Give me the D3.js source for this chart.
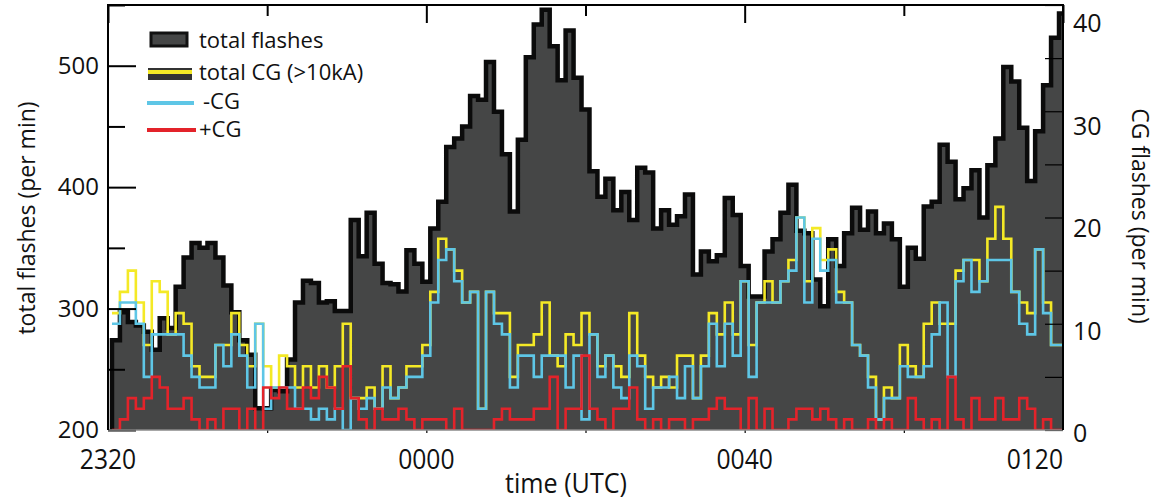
<!DOCTYPE html>
<html>
<head>
<meta charset="utf-8">
<script src="https://cdn.jsdelivr.net/npm/d3@7"></script>
<style>
  body { margin: 0; background: #fff; }
  text { font-family: "Open Sans", "Noto Sans", sans-serif; fill: #111; }
</style>
</head>
<body>
<div id="chart"></div>
<script>
// one bin per minute, bins centred on minutes after 2320 UTC
const minutes = d3.range(1, 121);

const totalFlashes = [
  274, 297, 289, 286, 281, 266, 292, 284, 318, 342,
  354, 350, 354, 342, 319, 297, 274, 262, 218, 218,
  233, 232, 258, 305, 323, 321, 305, 306, 298, 298,
  373, 343, 379, 337, 321, 320, 314, 348, 337, 322,
  366, 388, 433, 440, 450, 475, 472, 503, 462, 427,
  380, 439, 507, 534, 546, 516, 488, 529, 490, 464,
  413, 392, 407, 381, 396, 373, 416, 412, 366, 381,
  369, 376, 394, 328, 347, 339, 344, 391, 377, 335,
  310, 310, 347, 357, 379, 402, 364, 362, 324, 302,
  357, 335, 362, 383, 365, 380, 362, 370, 357, 318,
  350, 341, 384, 388, 435, 421, 390, 399, 414, 375,
  418, 440, 499, 487, 449, 405, 446, 484, 523, 543
];

const totalCG = [
  11, 13, 15, 12, 8, 14, 13, 9, 11, 10,
  6, 5, 5, 8, 8, 11, 8, 6, 10, 6,
  4, 7, 6, 4, 6, 4, 6, 4, 6, 10,
  3, 3, 4, 2, 6, 3, 4, 6, 6, 8,
  13, 18, 17, 15, 12, 13, 2, 13, 11, 11,
  5, 8, 8, 9, 12, 7, 6, 9, 8, 11,
  9, 6, 7, 6, 5, 11, 7, 5, 4, 5,
  4, 7, 7, 3, 7, 11, 9, 12, 9, 14,
  8, 12, 14, 12, 14, 16, 20, 14, 19, 16,
  17, 13, 12, 8, 7, 5, 1, 4, 3, 8,
  6, 5, 10, 12, 10, 10, 15, 16, 16, 14,
  18, 21, 18, 13, 12, 11, 17, 12, 8, 8
];

const negCG = [
  10, 12, 12, 10, 5, 9, 9, 9, 9, 7,
  5, 4, 4, 8, 6, 9, 7, 4, 10, 2,
  4, 4, 4, 2, 2, 1, 2, 1, 2, 0,
  3, 2, 3, 2, 4, 3, 4, 5, 5, 7,
  12, 16, 17, 14, 12, 13, 2, 13, 10, 9,
  4, 7, 7, 5, 7, 7, 7, 4, 7, 1,
  9, 5, 7, 4, 3, 7, 6, 2, 4, 4,
  5, 3, 6, 3, 6, 10, 6, 10, 7, 14,
  5, 12, 12, 12, 14, 15, 20, 12, 18, 15,
  16, 12, 12, 8, 7, 4, 1, 3, 3, 6,
  5, 5, 6, 9, 12, 5, 14, 16, 13, 14,
  16, 16, 16, 13, 10, 9, 17, 11, 8, 8
];

const posCG = [
  0, 1, 3, 2, 3, 5, 4, 2, 2, 3,
  1, 0, 1, 0, 2, 2, 0, 2, 0, 4,
  3, 4, 2, 2, 4, 3, 5, 4, 2, 6,
  3, 1, 0, 2, 1, 1, 2, 1, 0, 1,
  1, 1, 0, 2, 0, 0, 0, 0, 1, 2,
  1, 1, 1, 2, 2, 5, 0, 2, 2, 7,
  2, 1, 0, 2, 2, 4, 1, 0, 1, 0,
  1, 1, 0, 1, 1, 2, 3, 2, 2, 0,
  3, 0, 2, 0, 0, 1, 2, 2, 1, 2,
  1, 0, 1, 0, 0, 1, 0, 1, 0, 0,
  3, 1, 0, 1, 0, 5, 1, 0, 3, 1,
  1, 3, 1, 1, 3, 2, 0, 1, 0, 0
];

const timeTicks = [0, 40, 80, 120];
const timeLabels = ["2320", "0000", "0040", "0120"];
const leftTicks = [200, 300, 400, 500];
const leftMinor = [250, 350, 450, 550];
const rightTicks = [0, 10, 20, 30, 40];

const margin = { top: 5, right: 102, bottom: 71, left: 108 },
      width = 1165 - margin.left - margin.right,
      height = 501 - margin.top - margin.bottom;

const svg = d3.select("#chart").append("svg")
    .attr("width", 1165)
    .attr("height", 501);

const g = svg.append("g")
    .attr("transform", `translate(${margin.left}, ${margin.top})`);

const x = d3.scaleLinear().domain([0, 120]).range([0, width]);
const yLeft = d3.scaleLinear().domain([200, 550]).range([height, 0]);
const yRight = d3.scaleLinear().domain([0, 40]).range([height, 0]);
// right-hand labels sit slightly off their ticks in the original figure
const yRightLabel = d3.scaleLinear().domain([0, 40]).range([height + 3, 18]);

g.append("clipPath").attr("id", "plot-clip")
  .append("rect").attr("width", width).attr("height", height);

const plot = g.append("g").attr("clip-path", "url(#plot-clip)");

function stepPoints(values) {
    const pts = minutes.map((m, i) => [m - 0.5, values[i]]);
    pts.push([minutes[minutes.length - 1] + 0.5, values[values.length - 1]]);
    return pts;
}

// total flashes: filled histogram with heavy outline
const totalPts = stepPoints(totalFlashes);
plot.append("path")
    .datum(totalPts)
    .attr("fill", "#454646")
    .attr("d", d3.area().curve(d3.curveStepAfter)
        .x(d => x(d[0])).y0(yLeft(200)).y1(d => yLeft(d[1])));

plot.append("path")
    .datum([[totalPts[0][0], 200], ...totalPts])
    .attr("fill", "none")
    .attr("stroke", "#0b0b0b")
    .attr("stroke-width", 4.5)
    .attr("d", d3.line().curve(d3.curveStepAfter)
        .x(d => x(d[0])).y(d => yLeft(d[1])));

const cgLine = d3.line().curve(d3.curveStepAfter)
    .x(d => x(d[0])).y(d => yRight(d[1]));

[[totalCG, "#f4e926"], [negCG, "#5ec6e6"], [posCG, "#e3232a"]].forEach(([vals, col]) => {
    plot.append("path")
        .datum(stepPoints(vals))
        .attr("fill", "none")
        .attr("stroke", col)
        .attr("stroke-width", 2.6)
        .attr("d", cgLine);
});

// axes
function clean(sel) { sel.select(".domain").remove(); }

g.append("g")
    .call(d3.axisLeft(yLeft).tickValues(leftTicks).tickSize(-28).tickPadding(9))
    .call(clean)
    .call(s => s.selectAll("line").attr("stroke", "#000").attr("stroke-width", 2))
    .call(s => s.selectAll("text").attr("font-size", 24).style("fill", "#111"));

g.append("g")
    .call(d3.axisLeft(yLeft).tickValues(leftMinor).tickSize(-17).tickFormat(""))
    .call(clean)
    .call(s => s.selectAll("line").attr("stroke", "#000").attr("stroke-width", 2));

g.append("g")
    .attr("transform", `translate(${width}, 0)`)
    .call(d3.axisRight(yRight).ticks(8).tickSize(-18).tickFormat(""))
    .call(clean)
    .call(s => s.selectAll("line").attr("stroke", "#000").attr("stroke-width", 1.2));

g.append("g")
    .selectAll("text")
    .data(rightTicks)
    .enter().append("text")
    .attr("x", width + 10)
    .attr("y", d => yRightLabel(d))
    .attr("dy", "0.36em")
    .attr("font-size", 25)
    .text(d => d);

g.append("g")
    .call(d3.axisTop(x).tickValues(timeTicks).tickSize(-18).tickFormat(""))
    .call(clean)
    .call(s => s.selectAll("line").attr("stroke", "#000").attr("stroke-width", 2));

g.append("g")
    .call(d3.axisTop(x).tickValues([20, 60, 100]).tickSize(-11).tickFormat(""))
    .call(clean)
    .call(s => s.selectAll("line").attr("stroke", "#000").attr("stroke-width", 2));

g.append("g")
    .attr("transform", `translate(0, ${height})`)
    .call(d3.axisBottom(x).tickValues([20, 40, 60, 80, 100]).tickSize(3).tickFormat(""))
    .call(clean)
    .call(s => s.selectAll("line").attr("stroke", "#000").attr("stroke-width", 1.2));

// frame
g.append("line").attr("x1", 0).attr("x2", width).attr("y1", height).attr("y2", height)
    .attr("stroke", "#8a8a8a").attr("stroke-width", 1.5);
g.append("path")
    .attr("d", `M0,${height}V0H${width}V${height}`)
    .attr("fill", "none").attr("stroke", "#000").attr("stroke-width", 2);

// time labels (narrow face)
g.append("g")
    .selectAll("g")
    .data(timeTicks)
    .enter().append("g")
    .attr("transform", (d, i) => `translate(${x(d)}, ${height + 29}) scale(0.88, 1)`)
    .append("text")
    .attr("text-anchor", (d, i) => i === timeTicks.length - 1 ? "end" : "middle")
    .attr("dy", "0.36em")
    .attr("font-size", 28)
    .text((d, i) => timeLabels[i]);

svg.append("g")
    .attr("transform", "translate(566, 483) scale(0.93, 1)")
    .append("text")
    .attr("text-anchor", "middle")
    .attr("dy", "0.36em")
    .attr("font-size", 27)
    .text("time (UTC)");

svg.append("text")
    .attr("transform", "translate(27, 218) rotate(-90)")
    .attr("text-anchor", "middle")
    .attr("dy", "0.36em")
    .attr("font-size", 23)
    .text("total flashes (per min)");

svg.append("text")
    .attr("transform", "translate(1140, 216) rotate(90)")
    .attr("text-anchor", "middle")
    .attr("dy", "0.36em")
    .attr("font-size", 23)
    .text("CG flashes (per min)");

// legend
const legend = svg.append("g");
legend.append("rect")
    .attr("x", 151).attr("y", 33).attr("width", 36).attr("height", 13)
    .attr("fill", "#454646").attr("stroke", "#111").attr("stroke-width", 3);
legend.append("rect")
    .attr("x", 148).attr("y", 68).attr("width", 44).attr("height", 12)
    .attr("fill", "#333");
legend.append("line")
    .attr("x1", 148).attr("x2", 192).attr("y1", 72).attr("y2", 72)
    .attr("stroke", "#f4e926").attr("stroke-width", 4);
legend.append("line")
    .attr("x1", 147).attr("x2", 194).attr("y1", 103).attr("y2", 103)
    .attr("stroke", "#5ec6e6").attr("stroke-width", 4);
legend.append("line")
    .attr("x1", 147).attr("x2", 196).attr("y1", 130).attr("y2", 130)
    .attr("stroke", "#e3232a").attr("stroke-width", 4);

const legendItems = [
    { label: "total flashes", x: 199, y: 40 },
    { label: "total CG (>10kA)", x: 199, y: 72 },
    { label: "-CG", x: 203, y: 101 },
    { label: "+CG", x: 199, y: 129 }
];
legend.selectAll("text.leg")
    .data(legendItems)
    .enter().append("text")
    .attr("class", "leg")
    .attr("x", d => d.x)
    .attr("y", d => d.y)
    .attr("dy", "0.36em")
    .attr("font-size", 22)
    .text(d => d.label);
</script>
</body>
</html>
